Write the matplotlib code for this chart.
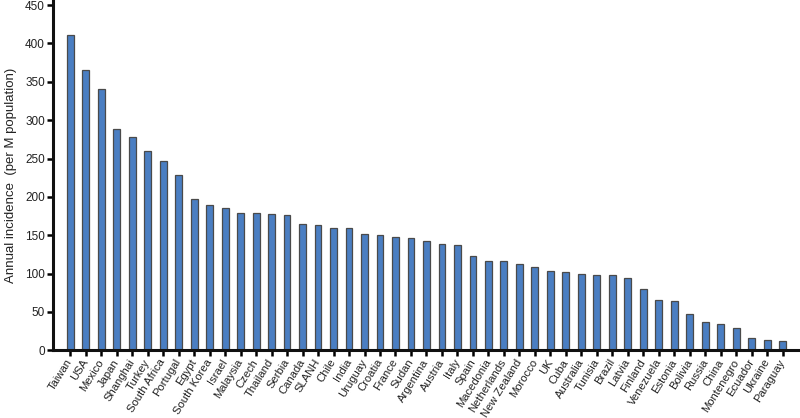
import matplotlib
matplotlib.use('Agg')
import matplotlib.pyplot as plt
import numpy as np

plt.rcParams['font.family'] = ['Liberation Sans', 'DejaVu Sans']

# 国家/地区
countries = ['Taiwan', 'USA', 'Mexico', 'Japan', 'Shanghai', 'Turkey', 'South Africa',
             'Portugal', 'Egypt', 'South Korea', 'Israel', 'Malaysia', 'Czech', 'Thailand',
             'Serbia', 'Canada', 'SLANH', 'Chile', 'India', 'Uruguay', 'Croatia', 'France',
             'Sudan', 'Argentina', 'Austria', 'Italy', 'Spain', 'Macedonia', 'Netherlands',
             'New Zealand', 'Morocco', 'UK', 'Cuba', 'Australia', 'Tunisia', 'Brazil',
             'Latvia', 'Finland', 'Venezuela', 'Estonia', 'Bolivia', 'Russia', 'China',
             'Montenegro', 'Ecuador', 'Ukraine', 'Paraguay']

# 年发病率 (每百万人口)
incidence = [411, 365, 341, 288, 278, 260, 247,
             229, 197, 189, 186, 179, 179, 178,
             177, 165, 164, 160, 160, 151, 150, 148,
             147, 142, 138, 137, 123, 117, 116,
             112, 108, 104, 102, 100, 98, 98,
             94, 80, 65, 64, 47, 37, 34,
             29, 16, 14, 12]

y_ticks = [0, 50, 100, 150, 200, 250, 300, 350, 400, 450]

fig = plt.figure(figsize=(8, 4.18), dpi=100)
ax = fig.add_axes([53.3 / 800, 1 - 350.3 / 418, 1 - 53.3 / 800, 350.3 / 418])

x = np.arange(len(countries))
ax.bar(x, incidence, width=0.45, color='#4a7ec2', edgecolor='#4a4a4a', linewidth=0.9)

ax.set_xlim(-1.08, 47.1)
ax.set_ylim(0, 456.7)
ax.set_yticks(y_ticks)
ax.set_xticks(x)
ax.set_xticklabels(countries, rotation=58, ha='right', va='center',
                   rotation_mode='anchor', fontsize=8.1, color='#222222')
ax.tick_params(axis='y', labelsize=8.5, labelcolor='#222222', width=1.8, length=4, pad=2)
ax.tick_params(axis='x', width=1.8, length=4, pad=3)

for side in ['top', 'right']:
    ax.spines[side].set_visible(False)
for side in ['left', 'bottom']:
    ax.spines[side].set_linewidth(2.2)
    ax.spines[side].set_color('#111111')

ax.set_ylabel('Annual incidence  (per M population)', fontsize=9.5, color='#222222', labelpad=6)

plt.savefig('out.png', dpi=100)
plt.close()
